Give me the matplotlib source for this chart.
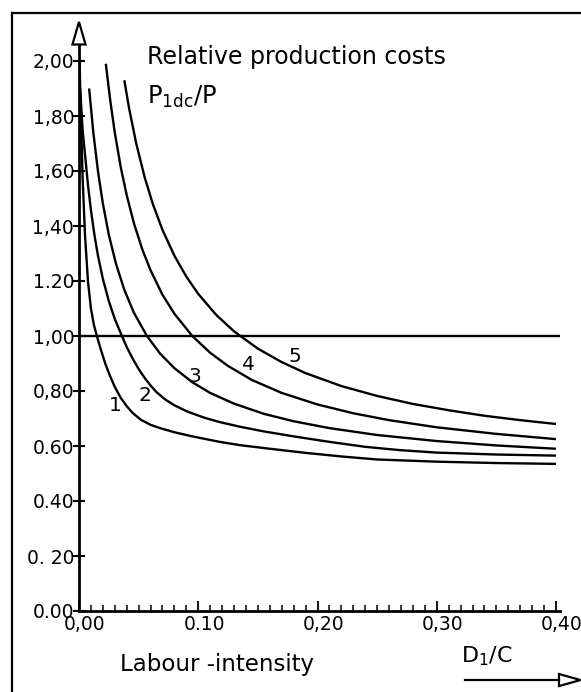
import matplotlib

matplotlib.use("Agg")

import matplotlib.pyplot as plt
import matplotlib.transforms as mtransforms
from matplotlib.patches import Polygon
from matplotlib.ticker import MultipleLocator

# labour intensity D1/C (x) and relative production costs P1dc/P (y)
curve1_x = [0.0005, 0.0015, 0.003, 0.005, 0.0075, 0.010, 0.0125, 0.015, 0.018, 0.022,
            0.026, 0.030, 0.035, 0.040, 0.045, 0.052, 0.060, 0.068, 0.080, 0.095,
            0.118, 0.135, 0.160, 0.190, 0.220, 0.250, 0.300, 0.350, 0.400]
curve1_y = [2.00, 1.80, 1.58, 1.37, 1.20, 1.10, 1.04, 1.00, 0.955, 0.90,
            0.855, 0.815, 0.775, 0.745, 0.72, 0.695, 0.677, 0.665, 0.65, 0.635,
            0.615, 0.603, 0.59, 0.575, 0.562, 0.551, 0.543, 0.538, 0.535]

curve2_x = [0.001, 0.003, 0.0055, 0.0075, 0.010, 0.013, 0.016, 0.020, 0.025, 0.030,
            0.036, 0.040, 0.045, 0.050, 0.055, 0.060, 0.065, 0.072, 0.080, 0.091,
            0.105, 0.118, 0.135, 0.155, 0.180, 0.210, 0.240, 0.269, 0.300, 0.350, 0.400]
curve2_y = [1.90, 1.75, 1.64, 1.55, 1.458, 1.366, 1.29, 1.208, 1.127, 1.062,
            1.00, 0.96, 0.918, 0.88, 0.848, 0.82, 0.796, 0.77, 0.748, 0.725,
            0.703, 0.687, 0.67, 0.653, 0.635, 0.615, 0.597, 0.585, 0.576, 0.569, 0.565]

curve3_x = [0.0085, 0.012, 0.016, 0.020, 0.025, 0.031, 0.038, 0.046, 0.057, 0.068,
            0.080, 0.095, 0.110, 0.130, 0.155, 0.180, 0.210, 0.250, 0.300, 0.350, 0.400]
curve3_y = [1.90, 1.74, 1.596, 1.482, 1.368, 1.263, 1.168, 1.085, 1.00, 0.936,
            0.883, 0.832, 0.793, 0.754, 0.717, 0.69, 0.665, 0.64, 0.618, 0.602, 0.59]

curve4_x = [0.0225, 0.026, 0.030, 0.035, 0.040, 0.046, 0.053, 0.060, 0.070, 0.080,
            0.095, 0.110, 0.125, 0.145, 0.170, 0.200, 0.230, 0.260, 0.300, 0.350, 0.400]
curve4_y = [1.99, 1.863, 1.74, 1.614, 1.512, 1.411, 1.316, 1.239, 1.15, 1.081,
            1.00, 0.939, 0.891, 0.84, 0.793, 0.751, 0.719, 0.694, 0.668, 0.644, 0.625]

curve5_x = [0.038, 0.042, 0.048, 0.055, 0.062, 0.070, 0.080, 0.090, 0.100, 0.115,
            0.130, 0.150, 0.170, 0.190, 0.220, 0.250, 0.280, 0.310, 0.340, 0.370, 0.400]
curve5_y = [1.93, 1.828, 1.70, 1.578, 1.479, 1.386, 1.292, 1.216, 1.153, 1.077,
            1.017, 0.954, 0.905, 0.865, 0.818, 0.782, 0.753, 0.73, 0.71, 0.694, 0.68]

curves = [
    ("1", curve1_x, curve1_y, (0.030, 0.749)),
    ("2", curve2_x, curve2_y, (0.055, 0.785)),
    ("3", curve3_x, curve3_y, (0.097, 0.851)),
    ("4", curve4_x, curve4_y, (0.142, 0.895)),
    ("5", curve5_x, curve5_y, (0.181, 0.927)),
]

reference_level = 1.0

x_ticks = [0.0, 0.1, 0.2, 0.3, 0.4]
x_tick_labels = ["0,00", "0.10", "0,20", "0,30", "0,40"]
y_ticks = [0.0, 0.2, 0.4, 0.6, 0.8, 1.0, 1.2, 1.4, 1.6, 1.8, 2.0]
y_tick_labels = ["0.00", "0. 20", "0.40", "0.60", "0,80", "1,00",
                 "1.20", "1,40", "1,60", "1,80", "2,00"]

W, H = 581, 692
fig = plt.figure(figsize=(W / 100, H / 100), dpi=100)
fig.patch.set_facecolor("white")

# frame of the scanned figure (left and top edges only are visible)
fig.add_artist(plt.Line2D([12 / W, 12 / W], [0, 1 - 13 / H], color="black", lw=1.6))
fig.add_artist(plt.Line2D([12 / W, 1], [1 - 13 / H, 1 - 13 / H], color="black", lw=1.6))

ax = fig.add_axes([79 / W, (H - 611) / H, 477 / W, 550 / H])
ax.set_xlim(0, 0.4)
ax.set_ylim(0, 2.0)
for side in ax.spines.values():
    side.set_visible(False)

line_kw = dict(color="black", lw=1.7, solid_capstyle="butt", solid_joinstyle="round")
for label, xs, ys, (lx, ly) in curves:
    ax.plot(xs, ys, **line_kw)
    ax.text(lx, ly, label, fontsize=14.5, ha="center", va="center")

ax.plot([0, 0.403], [reference_level, reference_level], clip_on=False, **line_kw)

# axes with open arrow heads
ax.plot([0, 0], [0, 2.06], color="black", lw=2, clip_on=False)
ax.plot([0, 0.403], [0, 0], color="black", lw=2, clip_on=False)
ax.add_patch(Polygon([[-0.0055, 2.06], [0.0055, 2.06], [0, 2.142]], closed=True,
                     facecolor="white", edgecolor="black", lw=1.6, clip_on=False))

ax.plot([0.324, 0.4025], [-0.251, -0.251], color="black", lw=1.6, clip_on=False)
ax.add_patch(Polygon([[0.4025, -0.229], [0.4025, -0.273], [0.4205, -0.251]], closed=True,
                     facecolor="white", edgecolor="black", lw=1.6, clip_on=False))

ax.set_xticks(x_ticks)
ax.set_xticklabels(x_tick_labels)
ax.xaxis.set_minor_locator(MultipleLocator(0.01))
ax.tick_params(axis="x", which="major", direction="in", length=7, width=1.3,
               labelsize=13.5, pad=3)
ax.tick_params(axis="x", which="minor", direction="in", length=4.5, width=1.1)
shift = mtransforms.ScaledTranslation(6 / 100, 0, fig.dpi_scale_trans)
for lab in ax.get_xticklabels():
    lab.set_transform(lab.get_transform() + shift)

ax.set_yticks(y_ticks)
ax.set_yticklabels(y_tick_labels)
ax.tick_params(axis="y", which="major", direction="inout", length=9, width=1.5,
               labelsize=13.5, pad=-1)

ax.text(0.057, 2.015, "Relative production costs", fontsize=17, ha="left", va="center")
ax.text(0.057, 1.87, r"P$_{\mathregular{1dc}}$/P", fontsize=17.5, ha="left", va="center")
ax.text(0.034, -0.196, "Labour -intensity", fontsize=16.5, ha="left", va="center")
ax.text(0.320, -0.165, r"D$_{\mathregular{1}}$/C", fontsize=16, ha="left", va="center")

fig.savefig("out.png", dpi=100)
plt.close(fig)
